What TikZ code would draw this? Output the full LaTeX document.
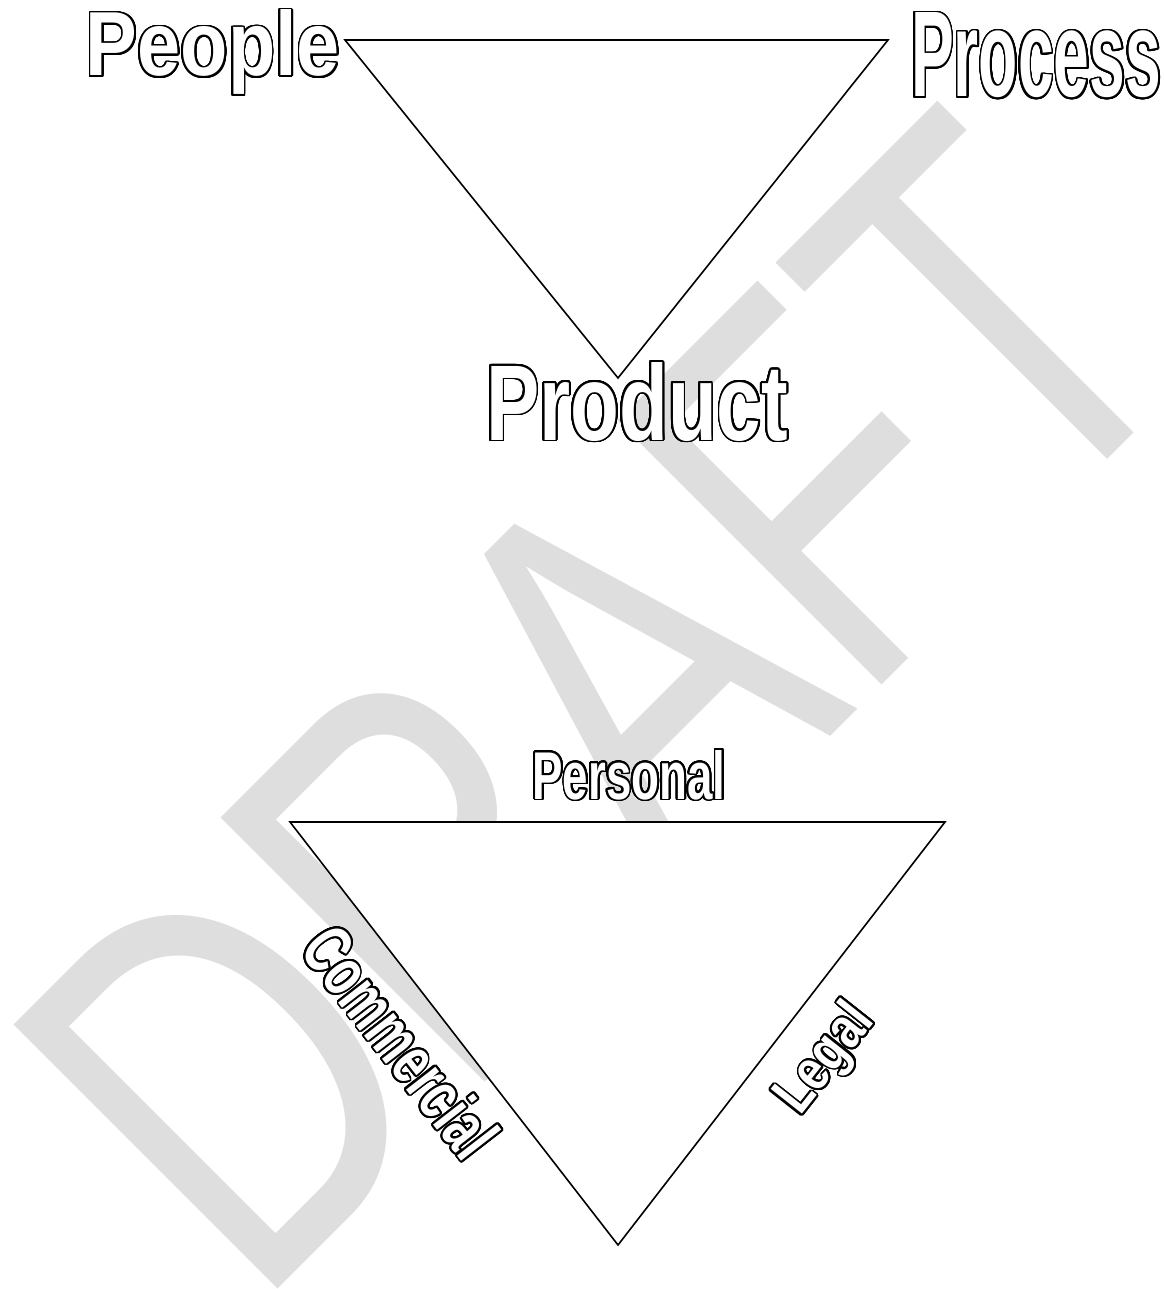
\documentclass[tikz,border=0pt]{standalone}
\usepackage{fontspec}
\usepackage{graphicx}
\usepackage{contour}
\contourlength{0.9pt}
\contournumber{32}
\newfontfamily\wafont{Liberation Sans}
\newfontfamily\wmfont{Liberation Sans}
\definecolor{wm}{RGB}{222,222,222}
\newcommand\watext[3]{\contour{black}{\resizebox{#1}{#2}{#3}}}
\begin{document}
\begin{tikzpicture}[x=0.5pt,y=-0.5pt,
  wa/.style={inner sep=0pt, text=white, font=\wafont\bfseries\fontsize{40}{40}\selectfont},
  tri/.style={draw=black, fill=white, line width=0.8pt, line join=miter}]
\useasboundingbox (0,0) rectangle (1163,1289);
\fill[white] (0,0) rectangle (1163,1289);
% watermark
\node[inner sep=0pt, anchor=base west, rotate=45, text=wm,
      font=\wmfont\fontsize{202.5}{202.5}\selectfont] (wmark) at (254,1313)
      {\scalebox{1}[1.34]{DRAFT}};
% triangles
\coordinate (t1a) at (345,40);
\coordinate (t1b) at (888,40);
\coordinate (t1c) at (618,378);
\draw[tri] (t1a) -- (t1b) -- (t1c) -- cycle;
\coordinate (t2a) at (290,822);
\coordinate (t2b) at (945,822);
\coordinate (t2c) at (618,1245);
\draw[tri] (t2a) -- (t2b) -- (t2c) -- cycle;
% labels
\node[wa, anchor=base] (people) at (213,76) {\watext{127pt}{33pt}{People}};
\node[wa, anchor=base] (process) at (1036,97) {\watext{125pt}{42pt}{Process}};
\node[wa, anchor=base] (product) at (637,440) {\watext{151pt}{39pt}{Product}};
\node[wa, anchor=base] (personal) at (629,799) {\watext{96.5pt}{24.5pt}{Personal}};
\node[wa, anchor=base, rotate=-52.2] (commercial) at (381,1057) {\watext{135pt}{25.5pt}{Commercial}};
\node[wa, anchor=base, rotate=51.7] (legal) at (838,1069) {\watext{61pt}{21pt}{Legal}};
\end{tikzpicture}
\end{document}
